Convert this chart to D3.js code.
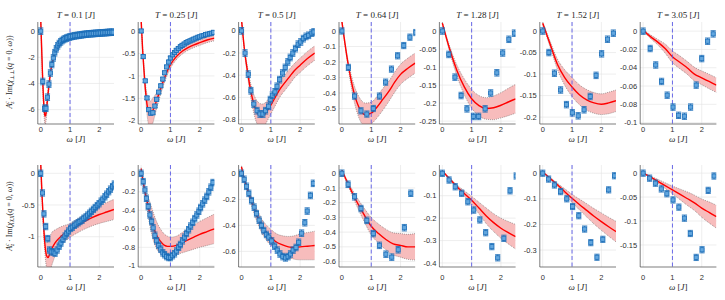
<!DOCTYPE html>
<html>
<head>
<meta charset="utf-8">
<script src="https://cdn.jsdelivr.net/npm/d3@7"></script>
<style>
  body { margin: 0; background: #fff; }
  svg { display: block; }
  .tick-label { font-family: "Liberation Sans", Arial, sans-serif; font-size: 7.5px; fill: #303030; }
  .tex { font-family: "Liberation Serif", "DejaVu Serif", serif; fill: #262626; }
</style>
</head>
<body>
<svg id="chart" width="725" height="300"></svg>
<script>
/* Susceptibility spectra, MC data (blue) vs fit with uncertainty band (red). */

/* ---------- DATA ---------- */

const temperatures = ["0.1", "0.25", "0.5", "0.64", "1.28", "1.52", "3.05"];
const xDomain = [-0.1, 2.5];
const xTicks = [0, 1, 2];
const markLine = 1;

/* top row: A_z^c Im chi_perp(q=0, w) */
const perpOmega = [
  [0, 0.07, 0.13, 0.18, 0.23, 0.28, 0.33, 0.38, 0.43, 0.48, 0.53, 0.58, 0.63, 0.68, 0.73, 0.78, 0.83, 0.88, 0.93, 0.98, 1.03, 1.09, 1.15, 1.21, 1.27, 1.33, 1.39, 1.45, 1.51, 1.57, 1.63, 1.69, 1.75, 1.81, 1.87, 1.93, 1.99, 2.05, 2.11, 2.17, 2.23, 2.29, 2.35, 2.41, 2.47],
  [0, 0.07, 0.14, 0.2, 0.26, 0.33, 0.4, 0.47, 0.53, 0.6, 0.67, 0.74, 0.8, 0.87, 0.94, 1.0, 1.07, 1.14, 1.2, 1.27, 1.34, 1.4, 1.47, 1.54, 1.6, 1.67, 1.74, 1.8, 1.87, 1.94, 2.0, 2.07, 2.14, 2.2, 2.27, 2.34, 2.4, 2.47],
  [0, 0.12, 0.23, 0.32, 0.42, 0.53, 0.63, 0.73, 0.82, 0.92, 0.98, 1.05, 1.14, 1.21, 1.3, 1.4, 1.49, 1.58, 1.66, 1.75, 1.84, 1.93, 2.02, 2.11, 2.2, 2.29, 2.4, 2.47],
  [0, 0.22, 0.43, 0.65, 0.85, 1.07, 1.28, 1.49, 1.69, 1.9, 2.11, 2.32, 2.52],
  [0, 0.22, 0.43, 0.64, 0.84, 1.06, 1.24, 1.46, 1.65, 1.86, 2.06, 2.27, 2.46],
  [0, 0.21, 0.4, 0.61, 0.81, 1.01, 1.21, 1.41, 1.62, 1.82, 2.01, 2.21, 2.41],
  [0, 0.24, 0.43, 0.63, 0.82, 1.02, 1.21, 1.41, 1.62, 1.81, 2.0, 2.2, 2.39]
];
const perpValue = [
  [0, -3.85, -5.9, -5.9, -5.05, -4.05, -3.2, -2.55, -2.05, -1.65, -1.35, -1.12, -0.95, -0.82, -0.72, -0.64, -0.58, -0.53, -0.49, -0.45, -0.42, -0.39, -0.36, -0.34, -0.32, -0.3, -0.28, -0.26, -0.24, -0.23, -0.21, -0.2, -0.19, -0.18, -0.17, -0.16, -0.15, -0.14, -0.13, -0.12, -0.11, -0.1, -0.09, -0.08, -0.08],
  [0, -0.57, -1.11, -1.49, -1.75, -1.83, -1.82, -1.67, -1.52, -1.36, -1.22, -1.07, -0.93, -0.8, -0.69, -0.6, -0.53, -0.48, -0.43, -0.39, -0.35, -0.32, -0.29, -0.26, -0.24, -0.22, -0.2, -0.18, -0.16, -0.14, -0.13, -0.11, -0.1, -0.08, -0.07, -0.06, -0.05, -0.03],
  [0, -0.2, -0.39, -0.54, -0.66, -0.72, -0.75, -0.75, -0.72, -0.68, -0.62, -0.58, -0.55, -0.5, -0.44, -0.38, -0.33, -0.28, -0.24, -0.2, -0.16, -0.12, -0.1, -0.07, -0.05, -0.04, -0.02, -0.01],
  [0, -0.235, -0.42, -0.515, -0.536, -0.5, -0.42, -0.33, -0.246, -0.16, -0.094, -0.04, -0.01],
  [0, -0.065, -0.128, -0.179, -0.216, -0.237, -0.237, -0.216, -0.172, -0.116, -0.061, -0.023, -0.006],
  [0, -0.05, -0.098, -0.137, -0.171, -0.19, -0.197, -0.183, -0.152, -0.103, -0.053, -0.019, -0.005],
  [0, -0.019, -0.037, -0.055, -0.07, -0.083, -0.092, -0.093, -0.083, -0.059, -0.03, -0.011, -0.003]
];
const perpError = [0.25, 0.035, 0.03, 0.02, 0.009, 0.0075, 0.0035];
const perpFitOmega = [
  [0, 0.03, 0.06, 0.09, 0.12, 0.15, 0.18, 0.21, 0.25, 0.3, 0.35, 0.4, 0.5, 0.6, 0.7, 0.8, 1.0, 1.25, 1.5, 2.0, 2.5],
  [0, 0.05, 0.1, 0.15, 0.2, 0.25, 0.3, 0.35, 0.4, 0.5, 0.6, 0.7, 0.8, 0.9, 1.0, 1.2, 1.4, 1.6, 1.8, 2.0, 2.25, 2.5],
  [0, 0.1, 0.2, 0.3, 0.4, 0.5, 0.6, 0.7, 0.8, 0.9, 1.0, 1.15, 1.3, 1.5, 1.65, 1.8, 2.0, 2.25, 2.5],
  [0, 0.2, 0.4, 0.6, 0.8, 1.0, 1.2, 1.4, 1.6, 1.8, 2.0, 2.25, 2.5],
  [0, 0.25, 0.5, 0.75, 1.0, 1.25, 1.5, 1.75, 2.0, 2.25, 2.5],
  [0, 0.25, 0.5, 0.75, 1.0, 1.25, 1.5, 1.75, 2.0, 2.25, 2.5],
  [0, 0.25, 0.5, 0.75, 1.0, 1.25, 1.5, 1.75, 2.0, 2.25, 2.5]
];
const perpFit = [
  [0.9, -1.2, -3.3, -5.0, -6.1, -6.5, -6.3, -5.7, -4.8, -3.75, -2.95, -2.35, -1.55, -1.1, -0.82, -0.65, -0.45, -0.32, -0.25, -0.15, -0.09],
  [0.25, -0.4, -0.9, -1.33, -1.63, -1.8, -1.86, -1.84, -1.77, -1.6, -1.41, -1.22, -1.04, -0.88, -0.75, -0.57, -0.45, -0.37, -0.31, -0.26, -0.2, -0.16],
  [0.1, -0.17, -0.36, -0.52, -0.64, -0.72, -0.76, -0.77, -0.75, -0.71, -0.67, -0.6, -0.53, -0.46, -0.41, -0.36, -0.31, -0.25, -0.2],
  [0.06, -0.2, -0.39, -0.5, -0.54, -0.53, -0.49, -0.44, -0.39, -0.33, -0.28, -0.24, -0.207],
  [0.022, -0.05, -0.11, -0.155, -0.188, -0.207, -0.215, -0.213, -0.206, -0.197, -0.188],
  [0.018, -0.03, -0.077, -0.108, -0.13, -0.148, -0.16, -0.167, -0.17, -0.167, -0.162],
  [0.001, -0.006, -0.012, -0.019, -0.028, -0.034, -0.04, -0.047, -0.051, -0.055, -0.059]
];
const perpFitSpread = [
  [0.05, 0.2, 0.35, 0.5, 0.6, 0.65, 0.6, 0.5, 0.4, 0.3, 0.2, 0.15, 0.1, 0.07, 0.06, 0.05, 0.04, 0.04, 0.04, 0.03, 0.03],
  [0.02, 0.05, 0.1, 0.15, 0.22, 0.28, 0.3, 0.3, 0.28, 0.2, 0.15, 0.12, 0.1, 0.09, 0.08, 0.07, 0.065, 0.06, 0.06, 0.06, 0.06, 0.06],
  [0.01, 0.02, 0.04, 0.06, 0.08, 0.1, 0.11, 0.11, 0.1, 0.09, 0.08, 0.075, 0.07, 0.07, 0.07, 0.065, 0.065, 0.065, 0.065],
  [0.005, 0.02, 0.05, 0.07, 0.075, 0.07, 0.07, 0.07, 0.065, 0.065, 0.065, 0.065, 0.065],
  [0.003, 0.008, 0.015, 0.022, 0.026, 0.028, 0.03, 0.033, 0.035, 0.038, 0.04],
  [0.003, 0.007, 0.012, 0.018, 0.022, 0.023, 0.024, 0.024, 0.024, 0.025, 0.025],
  [0.001, 0.002, 0.003, 0.005, 0.0065, 0.007, 0.007, 0.0075, 0.0075, 0.008, 0.008]
];
const perpYDomain = [[-7.1, 0.7], [-2.07, 0.2], [-0.84, 0.08], [-0.6, 0.058], [-0.258, 0.025], [-0.216, 0.021], [-0.1015, 0.01]];
const perpYTicks = [
  [0, -2, -4, -6],
  [0, -0.5, -1, -1.5, -2],
  [0, -0.2, -0.4, -0.6, -0.8],
  [0, -0.1, -0.2, -0.3, -0.4, -0.5],
  [0, -0.05, -0.1, -0.15, -0.2, -0.25],
  [0, -0.05, -0.1, -0.15, -0.2],
  [0, -0.02, -0.04, -0.06, -0.08, -0.1]
];

/* bottom row: A_z^c Im chi_XX(q=0, w) */
const xxOmega = [
  [0, 0.06, 0.11, 0.17, 0.24, 0.3, 0.36, 0.43, 0.49, 0.56, 0.63, 0.69, 0.76, 0.83, 0.89, 0.95, 1.02, 1.08, 1.15, 1.21, 1.28, 1.34, 1.41, 1.47, 1.54, 1.6, 1.67, 1.73, 1.8, 1.86, 1.93, 1.99, 2.06, 2.12, 2.19, 2.25, 2.32, 2.38, 2.45, 2.51],
  [0, 0.07, 0.13, 0.18, 0.24, 0.3, 0.36, 0.41, 0.47, 0.53, 0.6, 0.67, 0.74, 0.8, 0.87, 0.94, 1.0, 1.07, 1.14, 1.21, 1.28, 1.34, 1.41, 1.48, 1.55, 1.62, 1.69, 1.76, 1.83, 1.9, 1.97, 2.03, 2.1, 2.17, 2.24, 2.31, 2.38, 2.45],
  [0, 0.09, 0.17, 0.25, 0.34, 0.43, 0.51, 0.6, 0.68, 0.76, 0.85, 0.93, 1.03, 1.13, 1.22, 1.31, 1.41, 1.5, 1.59, 1.67, 1.76, 1.86, 1.95, 2.05, 2.16, 2.24, 2.35, 2.45],
  [0, 0.21, 0.43, 0.65, 0.85, 1.07, 1.28, 1.5, 1.7, 1.92, 2.13, 2.35],
  [0, 0.23, 0.44, 0.66, 0.87, 1.07, 1.28, 1.48, 1.69, 1.89, 2.1, 2.31, 2.52],
  [0, 0.2, 0.4, 0.61, 0.82, 1.02, 1.23, 1.43, 1.64, 1.85, 2.05, 2.25, 2.45],
  [0, 0.22, 0.42, 0.62, 0.81, 1.02, 1.22, 1.41, 1.61, 1.81, 2.01, 2.22, 2.42]
];
const xxValue = [
  [0, -0.31, -0.64, -0.84, -1.03, -1.21, -1.24, -1.24, -1.26, -1.21, -1.15, -1.1, -1.04, -0.99, -0.95, -0.91, -0.87, -0.85, -0.82, -0.8, -0.78, -0.76, -0.74, -0.71, -0.69, -0.66, -0.63, -0.6, -0.57, -0.54, -0.51, -0.48, -0.44, -0.41, -0.37, -0.33, -0.29, -0.25, -0.21, -0.17],
  [0, -0.09, -0.18, -0.27, -0.36, -0.45, -0.52, -0.59, -0.67, -0.73, -0.78, -0.82, -0.86, -0.88, -0.9, -0.91, -0.91, -0.89, -0.87, -0.84, -0.8, -0.77, -0.73, -0.69, -0.65, -0.61, -0.57, -0.53, -0.49, -0.45, -0.41, -0.37, -0.33, -0.29, -0.25, -0.2, -0.15, -0.1],
  [0, -0.046, -0.1, -0.154, -0.21, -0.26, -0.31, -0.36, -0.4, -0.44, -0.47, -0.49, -0.52, -0.56, -0.59, -0.62, -0.64, -0.65, -0.64, -0.62, -0.59, -0.57, -0.53, -0.46, -0.38, -0.29, -0.17, -0.077],
  [0, -0.075, -0.16, -0.24, -0.32, -0.41, -0.49, -0.55, -0.57, -0.52, -0.37, -0.136],
  [0, -0.03, -0.06, -0.089, -0.127, -0.164, -0.208, -0.265, -0.327, -0.377, -0.29, -0.078, -0.012],
  [0, -0.023, -0.046, -0.072, -0.1, -0.13, -0.166, -0.218, -0.271, -0.328, -0.258, -0.065, -0.01],
  [0, -0.0105, -0.021, -0.033, -0.043, -0.056, -0.071, -0.094, -0.126, -0.176, -0.16, -0.036, -0.006]
];
const xxError = [0.05, 0.035, 0.025, 0.022, 0.014, 0.012, 0.0065];
const xxFitOmega = [
  [0, 0.05, 0.1, 0.15, 0.2, 0.25, 0.3, 0.4, 0.5, 0.7, 1.0, 1.25, 1.5, 1.75, 2.0, 2.25, 2.5],
  [0, 0.1, 0.2, 0.3, 0.4, 0.5, 0.6, 0.7, 0.8, 0.9, 1.0, 1.2, 1.4, 1.6, 1.8, 2.0, 2.25, 2.5],
  [0, 0.1, 0.2, 0.3, 0.4, 0.5, 0.6, 0.7, 0.8, 0.9, 1.0, 1.2, 1.4, 1.6, 1.8, 2.0, 2.25, 2.5],
  [0, 0.25, 0.5, 0.75, 1.0, 1.25, 1.5, 1.75, 2.0, 2.25, 2.5],
  [0, 0.25, 0.5, 0.75, 1.0, 1.25, 1.5, 1.75, 2.0, 2.25, 2.5],
  [0, 0.25, 0.5, 0.75, 1.0, 1.25, 1.5, 1.75, 2.0, 2.25, 2.5],
  [0, 0.25, 0.5, 0.75, 1.0, 1.25, 1.5, 1.75, 2.0, 2.25, 2.5]
];
const xxFit = [
  [0.15, -0.4, -0.85, -1.15, -1.3, -1.33, -1.28, -1.17, -1.09, -0.99, -0.9, -0.83, -0.76, -0.7, -0.65, -0.61, -0.57],
  [0.05, -0.15, -0.3, -0.44, -0.56, -0.65, -0.71, -0.75, -0.78, -0.79, -0.79, -0.78, -0.75, -0.72, -0.69, -0.66, -0.63, -0.6],
  [0.05, -0.05, -0.12, -0.19, -0.25, -0.31, -0.36, -0.41, -0.44, -0.47, -0.49, -0.53, -0.55, -0.565, -0.57, -0.565, -0.56, -0.555],
  [0.02, -0.09, -0.19, -0.28, -0.36, -0.41, -0.45, -0.48, -0.49, -0.5, -0.5],
  [0.01, -0.025, -0.06, -0.09, -0.12, -0.155, -0.19, -0.22, -0.245, -0.265, -0.283],
  [0.005, -0.02, -0.045, -0.072, -0.098, -0.122, -0.145, -0.168, -0.189, -0.209, -0.228],
  [0, -0.008, -0.017, -0.026, -0.035, -0.044, -0.053, -0.062, -0.073, -0.082, -0.091]
];
const xxFitSpread = [
  [0.02, 0.05, 0.1, 0.15, 0.2, 0.25, 0.27, 0.25, 0.2, 0.15, 0.11, 0.11, 0.12, 0.13, 0.14, 0.15, 0.16],
  [0.01, 0.04, 0.08, 0.13, 0.15, 0.15, 0.14, 0.13, 0.12, 0.11, 0.1, 0.1, 0.11, 0.12, 0.13, 0.14, 0.15, 0.16],
  [0.005, 0.01, 0.02, 0.03, 0.04, 0.045, 0.05, 0.055, 0.055, 0.06, 0.06, 0.065, 0.07, 0.08, 0.09, 0.1, 0.105, 0.11],
  [0.003, 0.015, 0.03, 0.045, 0.06, 0.065, 0.07, 0.075, 0.08, 0.085, 0.09],
  [0.002, 0.004, 0.008, 0.012, 0.018, 0.026, 0.035, 0.04, 0.045, 0.05, 0.055],
  [0.002, 0.004, 0.006, 0.011, 0.016, 0.021, 0.026, 0.03, 0.034, 0.037, 0.04],
  [0.001, 0.002, 0.004, 0.006, 0.008, 0.011, 0.014, 0.016, 0.019, 0.022, 0.024]
];
const xxYDomain = [[-1.478, 0.131], [-1.013, 0.09], [-0.72, 0.064], [-0.637, 0.056], [-0.418, 0.037], [-0.366, 0.032], [-0.196, 0.017]];
const xxYTicks = [
  [0, -0.5, -1],
  [0, -0.2, -0.4, -0.6, -0.8, -1],
  [0, -0.2, -0.4, -0.6],
  [0, -0.1, -0.2, -0.3, -0.4, -0.5, -0.6],
  [0, -0.1, -0.2, -0.3, -0.4],
  [0, -0.1, -0.2, -0.3],
  [0, -0.05, -0.1, -0.15]
];

/* ---------- LAYOUT ---------- */

const PANEL_X0 = 37.8;
const PANEL_STEP = 100.4;
const PANEL_W = 76.2;
const ROWS = [
  { top: 22, bottom: 124, tickDy: 8, labelDy: 17.5, labelY: 72 },
  { top: 165, bottom: 267, tickDy: 13, labelDy: 22.5, labelY: 216 }
];

const BLUE = "#1a6db8";
const BLUE_FILL = "#62a6de";
const RED = "#ff0000";
const BAND = "#f7bcbc";
const AXIS = "#262626";
const GRID = "#e2e2e2";

const svg = d3.select("#chart");
const defs = svg.append("defs");

function fmt(v) { return String(+v.toFixed(4)); }

function drawPanel(row, col, series) {
  const geom = ROWS[row];
  const left = PANEL_X0 + col * PANEL_STEP;
  const x = d3.scaleLinear().domain(xDomain).range([left, left + PANEL_W]);
  const y = d3.scaleLinear().domain(series.yDomain).range([geom.bottom, geom.top]);
  const g = svg.append("g");

  const clipId = "clip-" + row + "-" + col;
  defs.append("clipPath").attr("id", clipId)
    .append("rect")
    .attr("x", left).attr("y", geom.top)
    .attr("width", PANEL_W).attr("height", geom.bottom - geom.top);

  /* grid */
  g.selectAll("line.gx").data(xTicks).enter().append("line")
    .attr("x1", d => x(d)).attr("x2", d => x(d))
    .attr("y1", geom.top).attr("y2", geom.bottom)
    .attr("stroke", GRID).attr("stroke-width", 0.6);
  g.selectAll("line.gy").data(series.yTicks).enter().append("line")
    .attr("x1", left).attr("x2", left + PANEL_W)
    .attr("y1", d => y(d)).attr("y2", d => y(d))
    .attr("stroke", GRID).attr("stroke-width", 0.6);

  const plot = g.append("g").attr("clip-path", "url(#" + clipId + ")");

  /* fit with uncertainty band */
  const fitPts = series.fitOmega.map((w, i) => ({ w: w, v: series.fit[i], s: series.spread[i] }));
  const curve = d3.curveMonotoneX;
  plot.append("path")
    .attr("d", d3.area().curve(curve)
      .x(d => x(d.w)).y0(d => y(d.v - d.s)).y1(d => y(d.v + d.s))(fitPts))
    .attr("fill", BAND);
  [-1, 1].forEach(function (sign) {
    plot.append("path")
      .attr("d", d3.line().curve(curve).x(d => x(d.w)).y(d => y(d.v + sign * d.s))(fitPts))
      .attr("fill", "none").attr("stroke", "#555").attr("stroke-width", 0.6)
      .attr("stroke-dasharray", "0.8,1.2");
  });
  plot.append("path")
    .attr("d", d3.line().curve(curve).x(d => x(d.w)).y(d => y(d.v))(fitPts))
    .attr("fill", "none").attr("stroke", RED).attr("stroke-width", 1.4);

  /* w = J marker */
  plot.append("line")
    .attr("x1", x(markLine)).attr("x2", x(markLine))
    .attr("y1", geom.top).attr("y2", geom.bottom)
    .attr("stroke", "#5a5ae6").attr("stroke-width", 0.9)
    .attr("stroke-dasharray", "4,2.5");

  /* data with error bars */
  const pts = series.omega.map((w, i) => ({ w: w, v: series.value[i] }));
  const err = series.error;
  const pt = plot.selectAll("g.pt").data(pts).enter().append("g")
    .attr("stroke", BLUE).attr("stroke-width", 0.85);
  pt.append("line")
    .attr("x1", d => x(d.w)).attr("x2", d => x(d.w))
    .attr("y1", d => y(d.v - err)).attr("y2", d => y(d.v + err));
  pt.append("line")
    .attr("x1", d => x(d.w) - 2.6).attr("x2", d => x(d.w) + 2.6)
    .attr("y1", d => y(d.v - err)).attr("y2", d => y(d.v - err));
  pt.append("line")
    .attr("x1", d => x(d.w) - 2.6).attr("x2", d => x(d.w) + 2.6)
    .attr("y1", d => y(d.v + err)).attr("y2", d => y(d.v + err));
  pt.append("rect")
    .attr("x", d => x(d.w) - 2.1).attr("y", d => y(d.v) - 2.1)
    .attr("width", 4.2).attr("height", 4.2)
    .attr("fill", BLUE_FILL);

  /* axes: left and bottom only */
  g.append("line")
    .attr("x1", left).attr("x2", left).attr("y1", geom.top).attr("y2", geom.bottom)
    .attr("stroke", AXIS).attr("stroke-width", 0.6);
  g.append("line")
    .attr("x1", left).attr("x2", left + PANEL_W).attr("y1", geom.bottom).attr("y2", geom.bottom)
    .attr("stroke", AXIS).attr("stroke-width", 0.6);

  g.selectAll("text.yt").data(series.yTicks).enter().append("text")
    .attr("class", "tick-label")
    .attr("x", left - 3).attr("y", d => y(d)).attr("dy", "0.35em")
    .attr("text-anchor", "end").text(fmt);
  g.selectAll("text.xt").data(xTicks).enter().append("text")
    .attr("class", "tick-label")
    .attr("x", d => x(d)).attr("y", geom.bottom + geom.tickDy)
    .attr("text-anchor", "middle").text(fmt);

  /* x label: omega [J] */
  const xl = g.append("text").attr("class", "tex").attr("font-size", 9)
    .attr("x", left + PANEL_W / 2).attr("y", geom.bottom + geom.labelDy)
    .attr("text-anchor", "middle");
  xl.append("tspan").attr("font-style", "italic").text("ω");
  xl.append("tspan").text(" [");
  xl.append("tspan").attr("font-style", "italic").text("J");
  xl.append("tspan").text("]");

  /* title only on the top row */
  if (row === 0) {
    const t = g.append("text").attr("class", "tex").attr("font-size", 9)
      .attr("x", left + PANEL_W / 2).attr("y", 18)
      .attr("text-anchor", "middle");
    t.append("tspan").attr("font-style", "italic").text("T");
    t.append("tspan").text(" = " + temperatures[col] + " [");
    t.append("tspan").attr("font-style", "italic").text("J");
    t.append("tspan").text("]");
  }
}

function yLabel(row, sub) {
  const cy = ROWS[row].labelY;
  const t = svg.append("text").attr("class", "tex").attr("font-size", 8)
    .attr("text-anchor", "middle")
    .attr("transform", "translate(12," + cy + ") rotate(-90)");
  t.append("tspan").attr("font-style", "italic").text("A");
  t.append("tspan").attr("font-style", "italic").attr("font-size", 5.5).attr("dy", -3).text("c");
  t.append("tspan").attr("font-style", "italic").attr("font-size", 5.5).attr("dx", -2.6).attr("dy", 5).text("z");
  t.append("tspan").attr("dy", -2).text(" · Im(");
  t.append("tspan").attr("font-style", "italic").text("χ");
  t.append("tspan").attr("font-style", "italic").attr("font-size", 5.5).attr("dy", 2).text(sub);
  t.append("tspan").attr("dy", -2).text("(");
  t.append("tspan").attr("font-style", "italic").text("q");
  t.append("tspan").text(" = 0, ");
  t.append("tspan").attr("font-style", "italic").text("ω");
  t.append("tspan").text("))");
}

temperatures.forEach(function (T, i) {
  drawPanel(0, i, {
    omega: perpOmega[i], value: perpValue[i], error: perpError[i],
    fitOmega: perpFitOmega[i], fit: perpFit[i], spread: perpFitSpread[i],
    yDomain: perpYDomain[i], yTicks: perpYTicks[i]
  });
  drawPanel(1, i, {
    omega: xxOmega[i], value: xxValue[i], error: xxError[i],
    fitOmega: xxFitOmega[i], fit: xxFit[i], spread: xxFitSpread[i],
    yDomain: xxYDomain[i], yTicks: xxYTicks[i]
  });
});

yLabel(0, "⊥⊥");
yLabel(1, "XX");
</script>
</body>
</html>
